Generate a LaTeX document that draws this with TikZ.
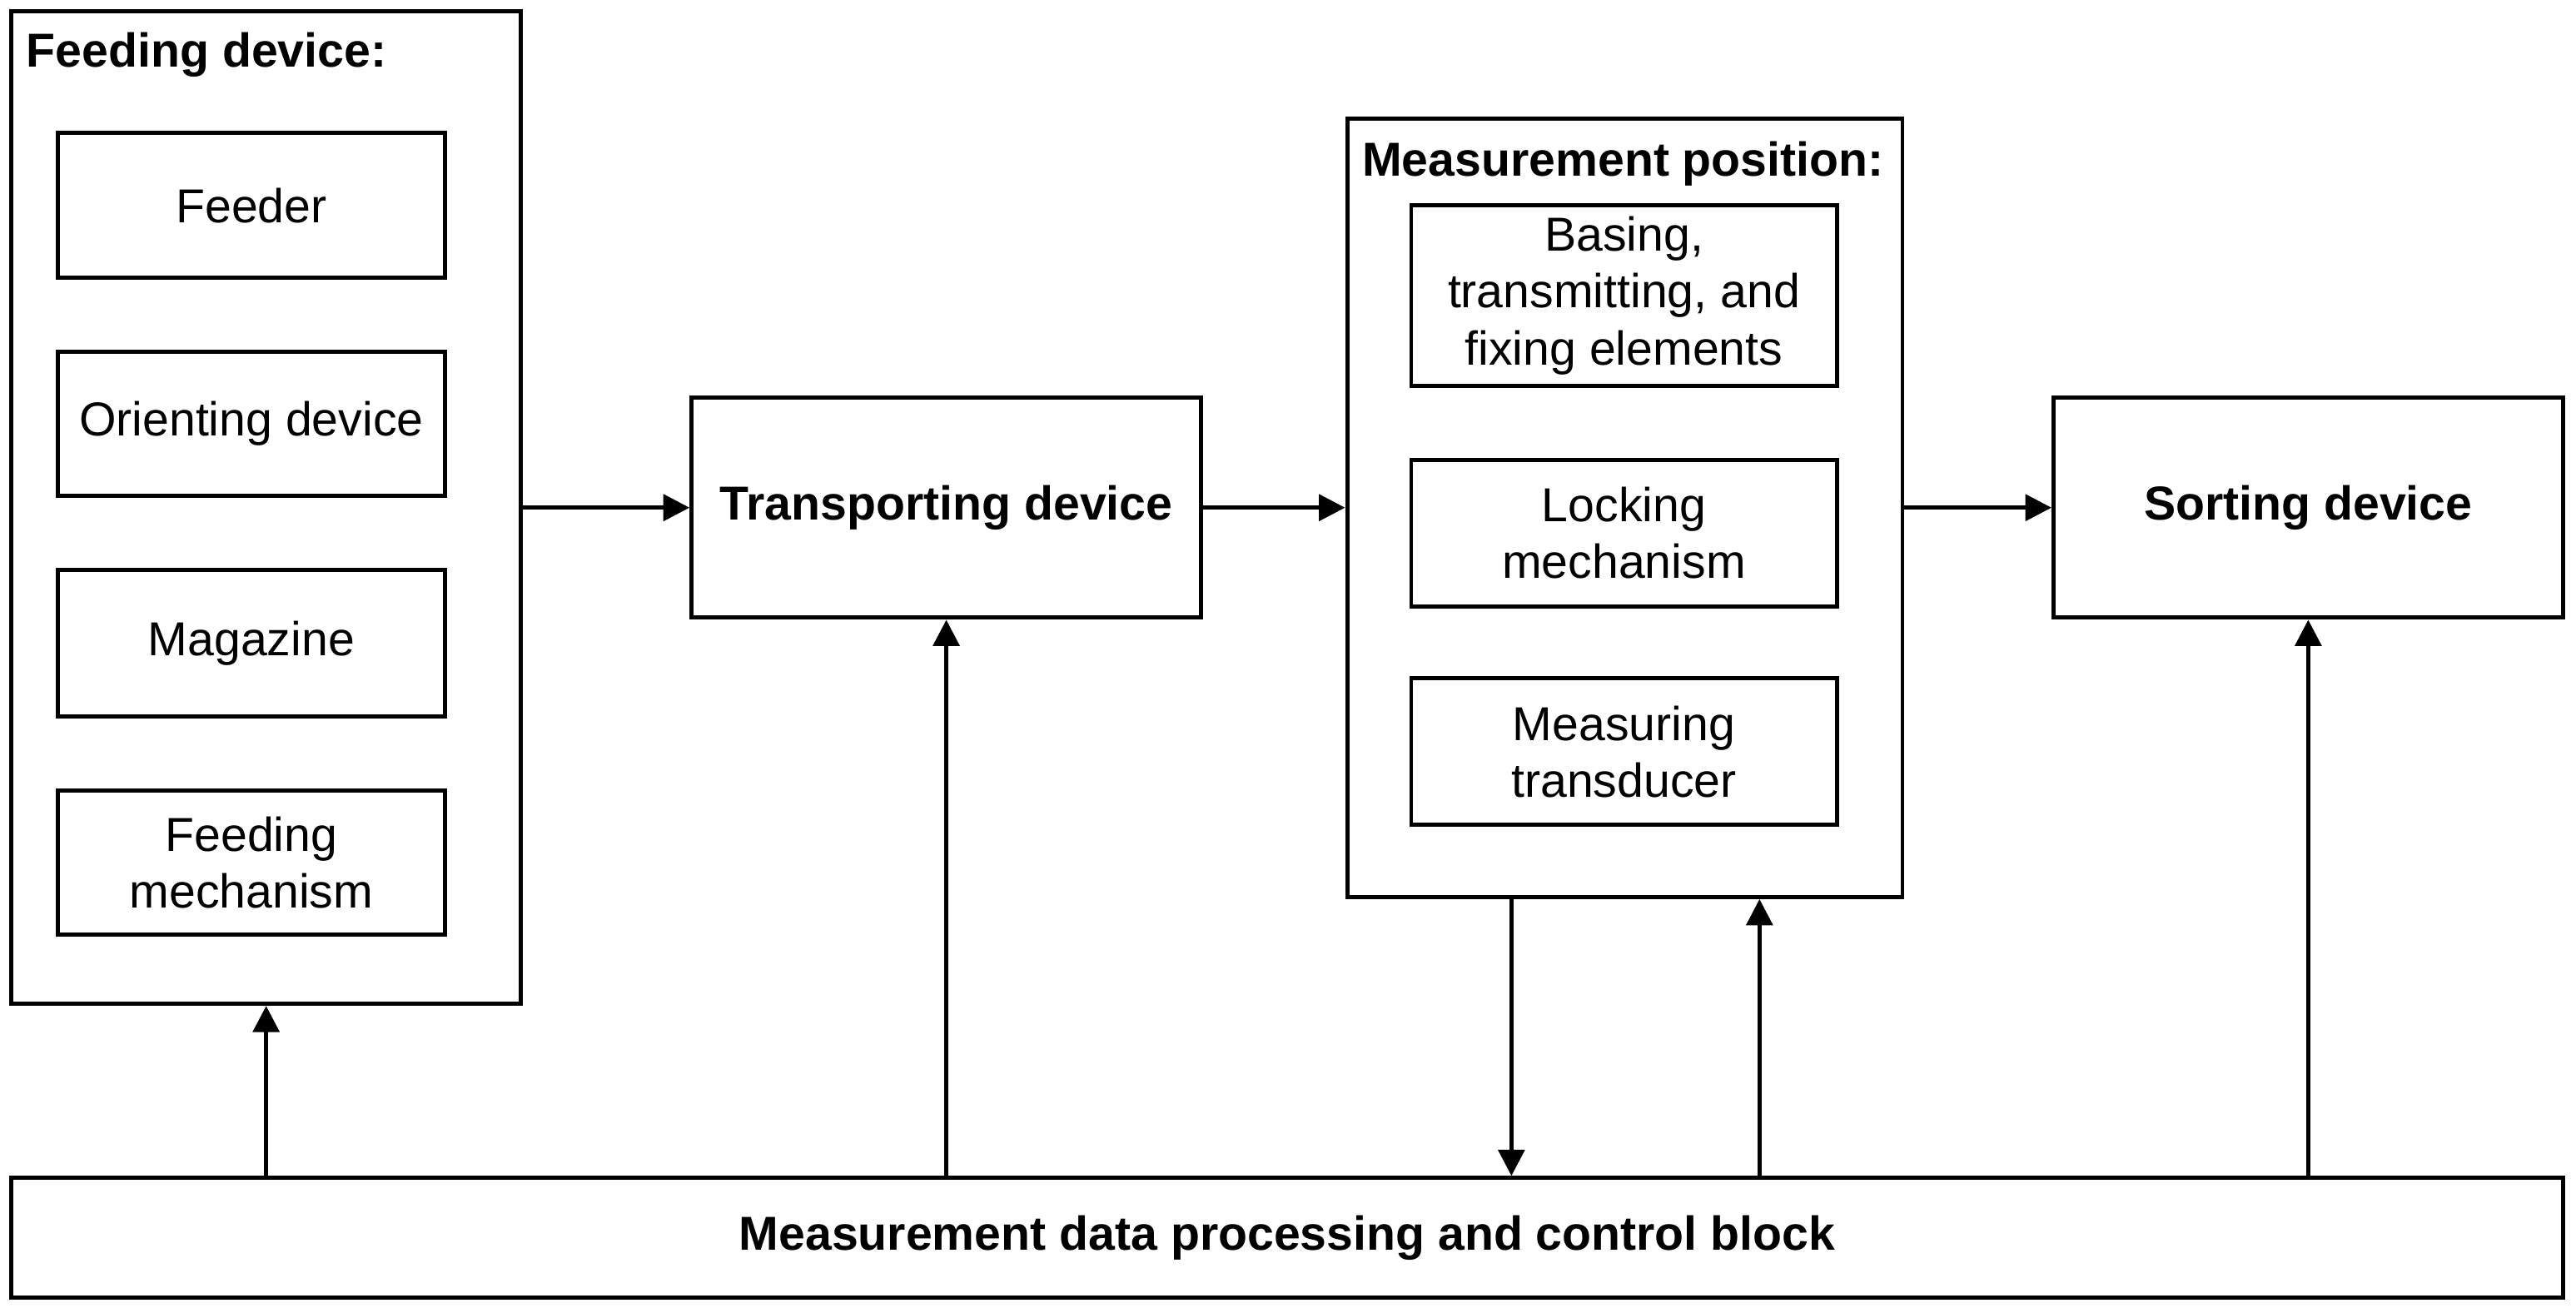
\documentclass[tikz,border=0pt]{standalone}
\usepackage{fontspec}
\setmainfont{Liberation Sans}
\usetikzlibrary{arrows.meta}
\begin{document}
\begin{tikzpicture}[x=1pt,y=-1pt,
  every node/.style={font=\fontsize{29}{34.5}\selectfont},
  box/.style={draw,line width=2.5pt,inner sep=0pt,align=center},
  bbox/.style={box,font=\fontsize{29}{34.5}\selectfont\bfseries},
  title/.style={inner sep=0pt,anchor=west,font=\fontsize{29}{34.5}\selectfont\bfseries},
  arr/.style={line width=2.5pt,-{Triangle[length=16pt,width=16pt]}}]
\useasboundingbox (0,0) rectangle (1568,796);
% feeding device
\node[box,minimum width=310pt,minimum height=604pt] (feed) at (162,309) {};
\node[title] (feedt) at (16,33.5) {Feeding device:};
\node[box,minimum width=236pt,minimum height=88pt] (feeder) at (153,125) {Feeder};
\node[box,minimum width=236pt,minimum height=88pt] (orient) at (153,258) {Orienting device};
\node[box,minimum width=236pt,minimum height=89pt] (mag) at (153,391.5) {Magazine};
\node[box,minimum width=236pt,minimum height=88pt] (fmech) at (153,525) {Feeding\\mechanism};
% transporting
\node[bbox,minimum width=310pt,minimum height=134pt] (trans) at (576,309) {\raisebox{-2pt}{Transporting device}};
% measurement position
\node[box,minimum width=338pt,minimum height=474pt] (meas) at (989,309) {};
\node[title] (meast) at (829,99.5) {Measurement position:};
\node[box,minimum width=259pt,minimum height=110pt] (basing) at (988.5,180) {Basing,\\transmitting, and\\fixing elements};
\node[box,minimum width=259pt,minimum height=89pt] (lock) at (988.5,324.5) {Locking\\mechanism};
\node[box,minimum width=259pt,minimum height=89pt] (mtrans) at (988.5,457.5) {Measuring\\transducer};
% sorting
\node[bbox,minimum width=310pt,minimum height=134pt] (sort) at (1405,309) {\raisebox{-2pt}{Sorting device}};
% bottom block
\node[bbox,minimum width=1553pt,minimum height=73pt] (ctrl) at (783.5,753.5) {\raisebox{-1.5pt}{Measurement data processing and control block}};
% horizontal arrows
\draw[arr] (feed.east) -- (trans.west);
\draw[arr] (trans.east) -- (meas.west);
\draw[arr] (meas.east) -- (sort.west);
% vertical arrows
\coordinate (mdown) at ([xshift=-69pt]meas.south);
\coordinate (mup) at ([xshift=82pt]meas.south);
\draw[arr] (ctrl.north -| feed.south) -- (feed.south);
\draw[arr] (ctrl.north -| trans.south) -- (trans.south);
\draw[arr] (mdown) -- (mdown |- ctrl.north);
\draw[arr] (mup |- ctrl.north) -- (mup);
\draw[arr] (ctrl.north -| sort.south) -- (sort.south);
\end{tikzpicture}
\end{document}
